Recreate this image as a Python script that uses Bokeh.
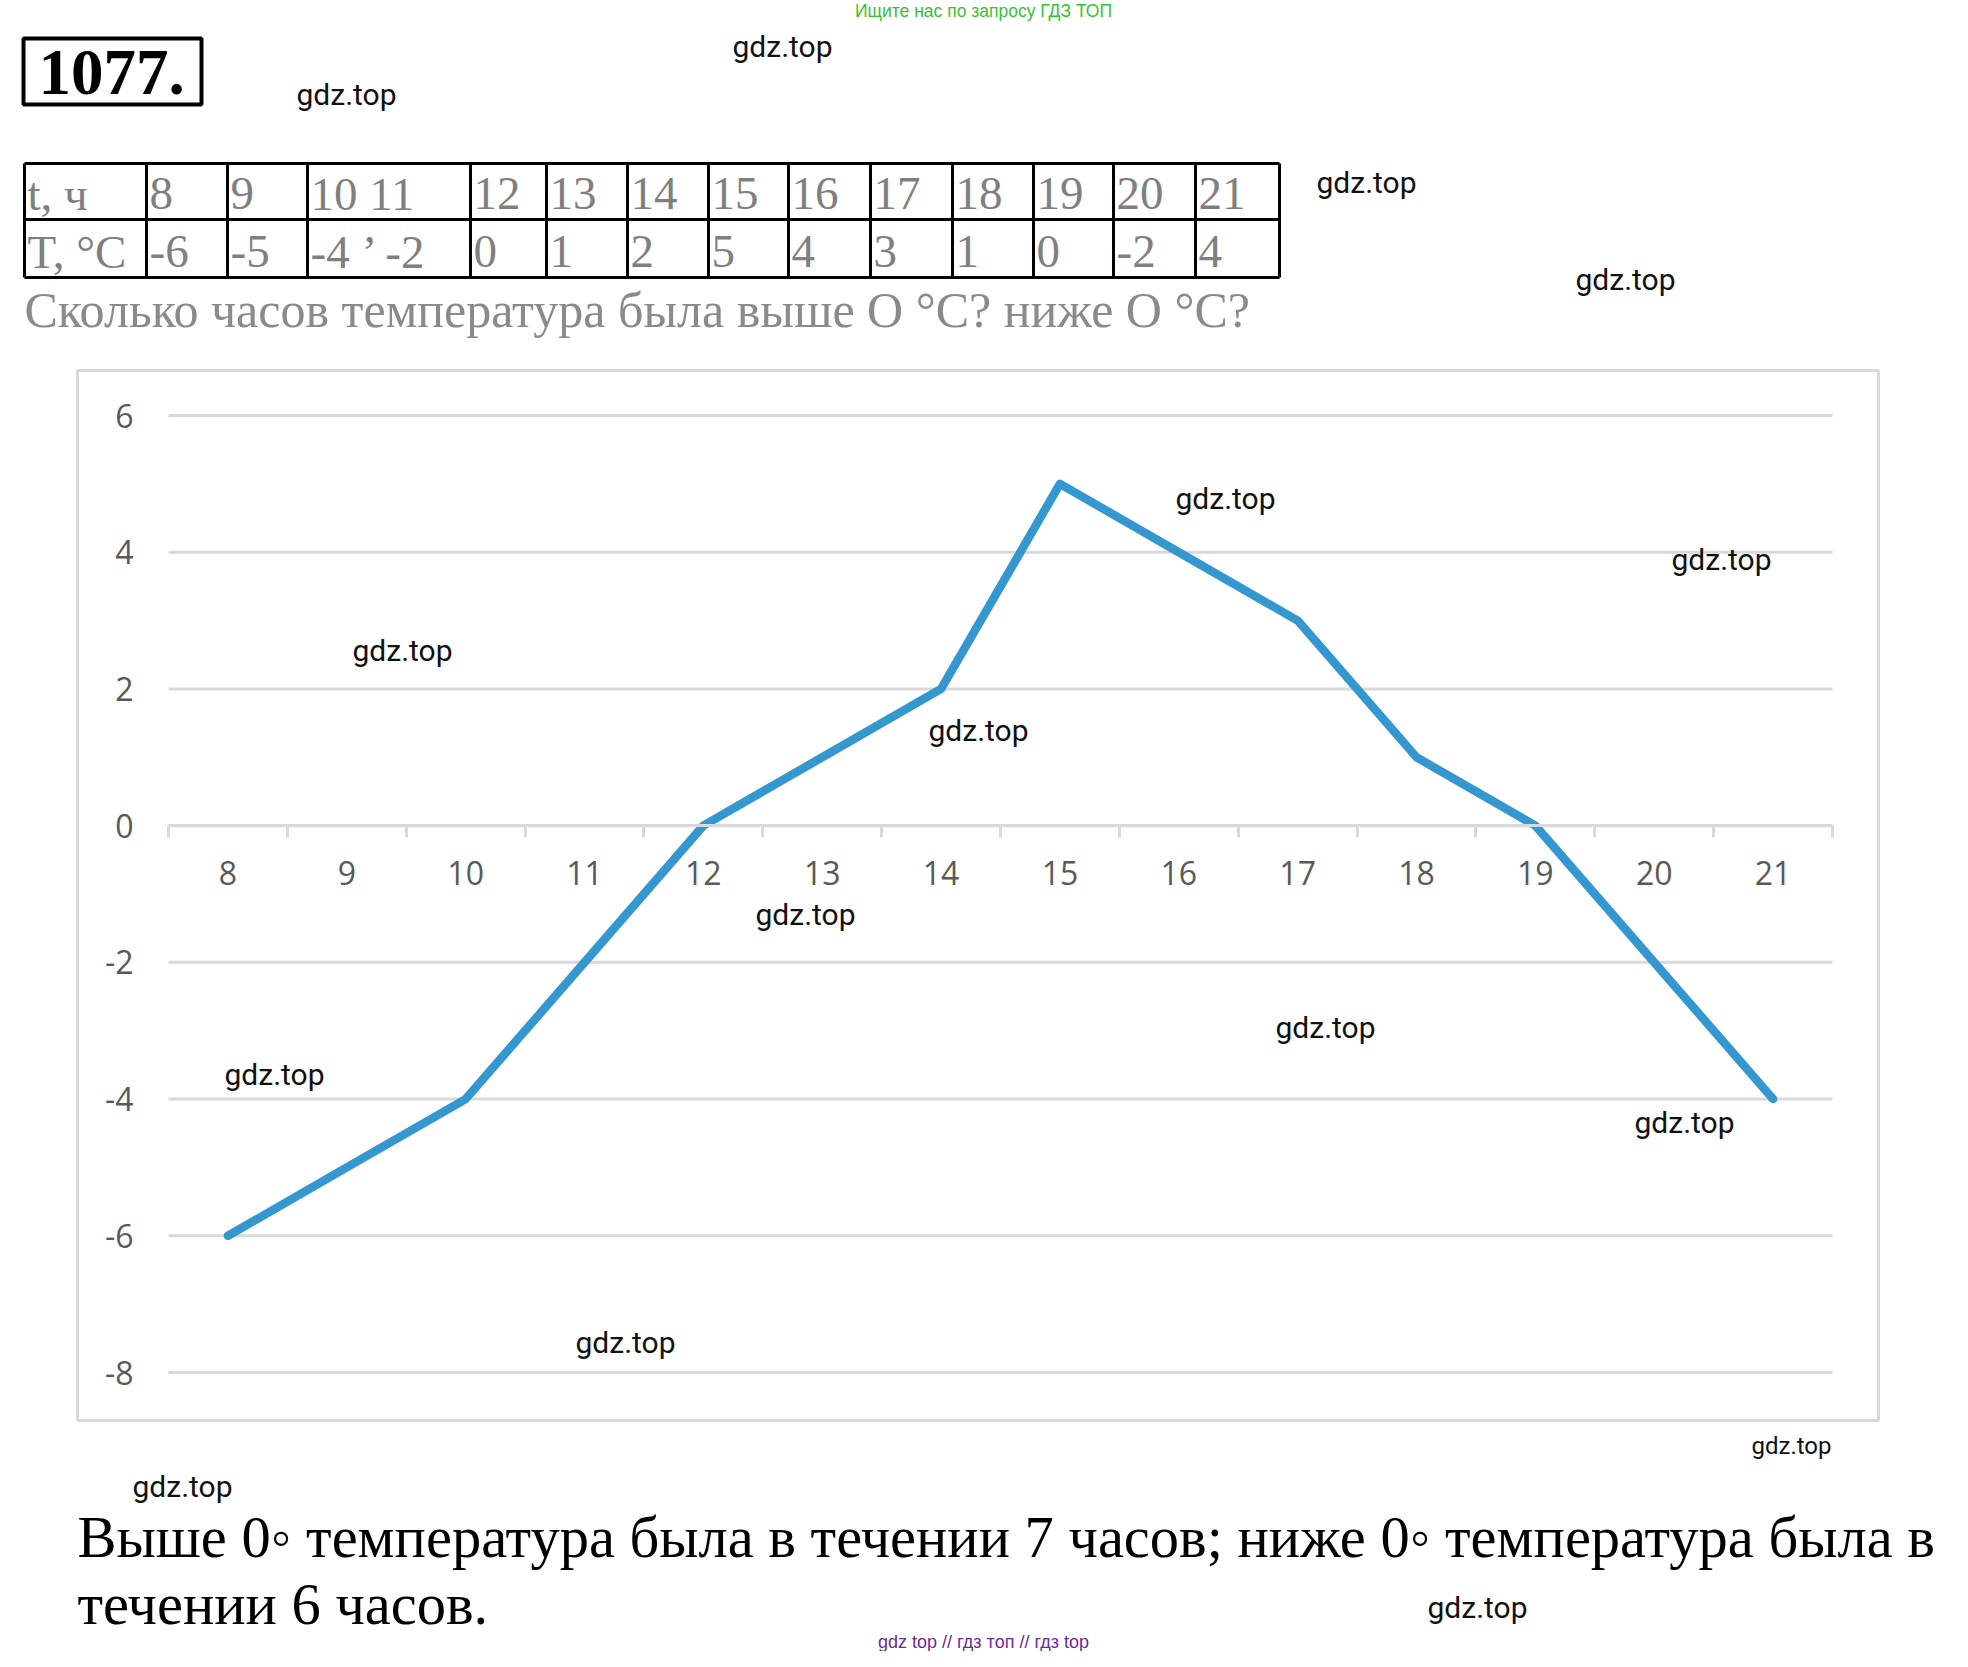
from bokeh.plotting import figure
from bokeh.models import Range1d, LinearAxis, FixedTicker, PrintfTickFormatter
from bokeh.core.properties import value
from bokeh.embed import file_html
from bokeh.resources import INLINE

# ---------------- data ----------------
hours = [8, 9, 10, 11, 12, 13, 14, 15, 16, 17, 18, 19, 20, 21]
temps = [-6, -5, -4, -2, 0, 1, 2, 5, 4, 3, 1, 0, -2, -4]
y_ticks = [-8, -6, -4, -2, 0, 2, 4, 6]

table_row1 = ["t, ч", "8", "9", "10 11", "12", "13", "14", "15", "16", "17", "18", "19", "20", "21"]
table_row2 = ["T, °C", "-6", "-5", "-4 ’ -2", "0", "1", "2", "5", "4", "3", "1", "0", "-2", "4"]
problem_number = "1077."
question = "Сколько часов температура была выше О °С? ниже О °С?"
answer_lines = ["Выше 0◦ температура была в течении 7 часов; ниже 0◦ температура была в",
                "течении 6 часов."]
promo_top = "Ищите нас по запросу ГДЗ ТОП"
promo_bottom = "gdz top // гдз топ // гдз top"
watermark = "gdz.top"

# ---------------- layout (page pixel coordinates) ----------------
PAGE_W, PAGE_H = 1952, 1651
PX0, PX1 = 0, PAGE_W
PY0, PY1 = 0, PAGE_H
# chart plot area in page pixels
AREA_L, AREA_R = 168, 1832
AREA_TOP, AREA_BOT = 415, 1372
BOX = (77, 1878, 370, 1420)  # left, right, top, bottom of chart box

SERIF = value("Liberation Serif")
SANS = value("Roboto")
GRID_COLOR = "#d9d9d9"
LABEL_COLOR = "#595959"
LINE_COLOR = "#3497d0"

x_lo = hours[0] - 0.5
x_hi = hours[-1] + 0.5
px_x = (AREA_R - AREA_L) / (x_hi - x_lo)
px_y = (AREA_BOT - AREA_TOP) / (y_ticks[-1] - y_ticks[0])

p = figure(width=PAGE_W, height=PAGE_H,
           x_range=Range1d(x_lo - (AREA_L - PX0) / px_x, x_hi + (PX1 - AREA_R) / px_x),
           y_range=Range1d(y_ticks[0] - (PY1 - AREA_BOT) / px_y, y_ticks[-1] + (AREA_TOP - PY0) / px_y),
           output_backend="svg", toolbar_location=None, min_border=0,
           x_axis_location=None, y_axis_location=None,
           outline_line_color=None, background_fill_color="white", border_fill_color="white")
p.grid.visible = False
p.extra_x_ranges = {"page": Range1d(PX0, PX1)}
p.extra_y_ranges = {"page": Range1d(PY1, PY0)}
PG = dict(x_range_name="page", y_range_name="page")


def marks(pts, size="30px"):
    p.text(x=[q[0] for q in pts], y=[q[1] for q in pts], text=[watermark] * len(pts),
           text_font=SANS, text_font_size=size, text_color="#111111",
           text_align="center", text_baseline="middle", **PG)


# ---------------- header ----------------
p.text(x=[983], y=[10], text=[promo_top], text_font=value("Liberation Sans"),
       text_font_size="17.5px", text_color="#36c236",
       text_align="center", text_baseline="middle", **PG)

p.quad(left=[23], right=[201], top=[38], bottom=[104], fill_color=None,
       line_color="black", line_width=4, **PG)
p.text(x=[38], y=[72], text=[problem_number], text_font=SERIF, text_font_style="bold",
       text_font_size="65px", text_color="black", text_align="left",
       text_baseline="middle", **PG)

col_edges = [24, 146, 227, 307, 470, 546, 627, 708, 788, 870, 952, 1033, 1113, 1195, 1279]
row_edges = [163, 219, 277]
p.segment(x0=col_edges, x1=col_edges, y0=[row_edges[0]] * len(col_edges),
          y1=[row_edges[-1]] * len(col_edges), line_color="black", line_width=3, **PG)
p.segment(x0=[col_edges[0]] * len(row_edges), x1=[col_edges[-1]] * len(row_edges),
          y0=row_edges, y1=row_edges, line_color="black", line_width=3, **PG)
cell_x = [c + 3 for c in col_edges[:-1]]
p.text(x=cell_x, y=[193] * len(cell_x), text=table_row1, text_font=SERIF,
       text_font_size="47px", text_color="#7f7f7f", text_align="left",
       text_baseline="middle", **PG)
p.text(x=cell_x, y=[251] * len(cell_x), text=table_row2, text_font=SERIF,
       text_font_size="47px", text_color="#7f7f7f", text_align="left",
       text_baseline="middle", **PG)

p.text(x=[24], y=[309], text=[question], text_font=SERIF, text_font_size="50px",
       text_color="#8a8a8a", text_align="left", text_baseline="middle", **PG)

marks([(782, 46), (346, 94), (1366, 182), (1625, 279)])

# ---------------- chart ----------------
p.quad(left=[BOX[0]], right=[BOX[1]], top=[BOX[2]], bottom=[BOX[3]], fill_color=None,
       line_color=GRID_COLOR, line_width=3, **PG)

p.segment(x0=[x_lo] * len(y_ticks), x1=[x_hi] * len(y_ticks), y0=y_ticks, y1=y_ticks,
          line_color=GRID_COLOR, line_width=3)

xaxis = LinearAxis(fixed_location=0, bounds=(x_lo, x_hi),
                   ticker=FixedTicker(ticks=hours, minor_ticks=[h - 0.5 for h in hours] + [x_hi]),
                   axis_line_color=GRID_COLOR, axis_line_width=3,
                   major_tick_line_color=None, major_tick_in=0, major_tick_out=0,
                   minor_tick_line_color=GRID_COLOR, minor_tick_line_width=3,
                   minor_tick_in=0, minor_tick_out=12,
                   major_label_text_font="Open Sans", major_label_text_font_size="32px",
                   major_label_text_color=LABEL_COLOR, major_label_standoff=23)
p.add_layout(xaxis, "below")

yaxis = LinearAxis(fixed_location=x_lo, ticker=FixedTicker(ticks=y_ticks, minor_ticks=[]),
                   formatter=PrintfTickFormatter(format="%d"),
                   axis_line_color=None, major_tick_line_color=None,
                   major_tick_in=0, major_tick_out=0, minor_tick_line_color=None,
                   major_label_text_font="Open Sans", major_label_text_font_size="32px",
                   major_label_text_color=LABEL_COLOR, major_label_standoff=35)
p.add_layout(yaxis, "left")

p.line(hours, temps, line_color=LINE_COLOR, line_width=8.5,
       line_join="round", line_cap="round")

marks([(1225, 498), (1721, 559), (402, 650), (978, 730), (805, 914),
       (1325, 1027), (274, 1074), (1684, 1122), (625, 1342)])

# ---------------- footer ----------------
p.text(x=[77, 77], y=[1537, 1604], text=answer_lines, text_font=SERIF,
       text_font_size="58.5px", text_color="black", text_align="left",
       text_baseline="middle", **PG)
marks([(1791, 1445)], size="24px")
marks([(182, 1486), (1477, 1607)])
p.text(x=[983], y=[1641], text=[promo_bottom], text_font=value("Liberation Sans"),
       text_font_size="18px", text_color="#6a2c9a", text_align="center",
       text_baseline="middle", **PG)

open("out.html", "w").write(file_html(p, INLINE))
